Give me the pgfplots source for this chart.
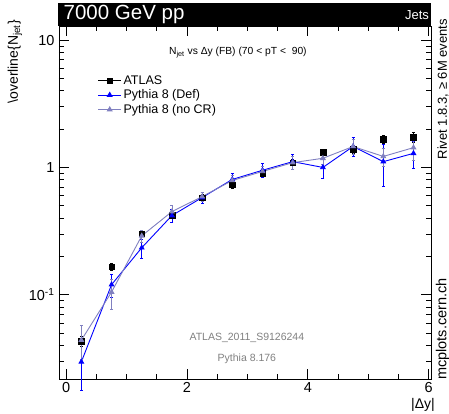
\documentclass[border=0pt]{standalone}
\usepackage{fontspec}
\setmainfont{Liberation Sans}
\usepackage{pgfplots}
\pgfplotsset{compat=1.18}
\definecolor{defblue}{RGB}{0,0,255}
\definecolor{nocr}{RGB}{128,128,192}
\definecolor{labelgray}{RGB}{128,128,128}

\begin{document}
\begin{tikzpicture}
\useasboundingbox (-59pt,-34pt) rectangle (390pt,379pt);
\begin{axis}[
  scale only axis, width=372pt, height=353pt,
  at={(0,0)}, anchor=south west,
  xmin=-0.12, xmax=6.04,
  ymode=log, ymin=0.0218, ymax=12.9,
  axis line style={line width=0.8pt},
  tick align=inside, tick pos=both,
  major tick length=10pt, minor tick length=5pt,
  every tick/.style={line width=0.8pt, black},
  xtick={0,2,4,6}, minor xtick={0.5,1,1.5,2.5,3,3.5,4.5,5,5.5},
  ytick={0.1,1,10}, yticklabels={10\textsuperscript{-1},1,10},
  minor ytick={0.03,0.04,0.05,0.06,0.07,0.08,0.09,0.2,0.3,0.4,0.5,0.6,0.7,0.8,0.9,2,3,4,5,6,7,8,9},
  /pgf/number format/assume math mode=true,
  tick label style={font=\fontsize{14.5}{14.5}\selectfont},
  yticklabel style={xshift=-1pt},
  clip=false,
  legend style={draw=none, fill=none, at={(0.104,0.866)}, anchor=north west,
    font=\fontsize{12.5}{13}\selectfont, row sep=0pt, inner sep=0pt},
  legend cell align=left,
  legend image code/.code={\draw[mark repeat=2,mark phase=2] plot coordinates {(0cm,0cm) (0.4cm,0cm) (0.8cm,0cm)};},
  error bars/y dir=both, error bars/y explicit,
  error bars/error bar style={line width=0.8pt},
  error bars/error mark options={mark size=1.5pt, rotate=90, line width=0.8pt},
]
% ATLAS data (markers with error bars only)
\addplot[black, only marks, mark=square*, mark size=2.8pt,
  legend image code/.code={\draw[black, line width=0.8pt] (0cm,0cm) -- (0.8cm,0cm);
    \fill[black] (0.4cm,0cm) +(-2.8pt,-2.8pt) rectangle +(2.8pt,2.8pt);}]
  coordinates {
  (0.25,0.0434) +- (0,0.004)
  (0.75,0.166) +- (0,0.010)
  (1.25,0.302) +- (0,0.015)
  (1.75,0.42) +- (0,0.02)
  (2.25,0.58) +- (0,0.03)
  (2.75,0.73) +- (0,0.04)
  (3.25,0.90) +- (0,0.05)
  (3.75,1.09) +- (0,0.06)
  (4.25,1.31) +- (0,0.07)
  (4.75,1.39) +- (0,0.10)
  (5.25,1.66) +- (0,0.12)
  (5.75,1.72) +- (0,0.15)
  };
\addlegendentry{ATLAS}
% Pythia 8, default tune
\addplot[defblue, line width=0.9pt, mark=triangle*, mark size=2.6pt]
  coordinates {
  (0.25,0.0297) +- (0,0.012)
  (0.75,0.120) +- (0,0.025)
  (1.25,0.234) +- (0,0.04)
  (1.75,0.419) +- (0,0.05)
  (2.25,0.58) +- (0,0.06)
  (2.75,0.805) +- (0,0.09)
  (3.25,0.95) +- (0,0.12)
  (3.75,1.11) +- (0,0.15)
  (4.25,1.00) +- (0,0.18)
  (4.75,1.46) +- (0,0.25)
  (5.25,1.11) +- (0,0.40)
  (5.75,1.29) +- (0,0.30)
  };
\addlegendentry{Pythia 8 (Def)}
% Pythia 8, no colour reconnection
\addplot[nocr, line width=0.9pt, mark=triangle*, mark size=2.6pt]
  coordinates {
  (0.25,0.044) +- (0,0.013)
  (0.75,0.105) +- (0,0.028)
  (1.25,0.29) +- (0,0.03)
  (1.75,0.45) +- (0,0.05)
  (2.25,0.59) +- (0,0.05)
  (2.75,0.79) +- (0,0.07)
  (3.25,0.93) +- (0,0.08)
  (3.75,1.09) +- (0,0.12)
  (4.25,1.18) +- (0,0.12)
  (4.75,1.46) +- (0,0.20)
  (5.25,1.22) +- (0,0.20)
  (5.75,1.43) +- (0,0.30)
  };
\addlegendentry{Pythia 8 (no CR)}

% header bar
\fill[black] (rel axis cs:-0.003,1) rectangle (rel axis cs:1.0,1.065);
\node[white, anchor=west, font=\fontsize{20.5}{20.5}\selectfont, inner sep=0pt]
  at (rel axis cs:0.012,1.032) {7000 GeV pp};
\node[white, anchor=east, font=\fontsize{13}{13}\selectfont, inner sep=0pt]
  at (rel axis cs:0.995,1.031) {Jets};
% in-plot annotations
\node[font=\fontsize{10.3}{10.3}\selectfont] at (rel axis cs:0.481,0.926)
  {N\textsubscript{jet} vs Δy (FB) (70 < pT <\ \ 90)};
\node[labelgray, font=\fontsize{10.5}{10.5}\selectfont] at (rel axis cs:0.505,0.116)
  {ATLAS\_2011\_S9126244};
\node[labelgray, font=\fontsize{10.5}{10.5}\selectfont] at (rel axis cs:0.505,0.057)
  {Pythia 8.176};
\end{axis}
% axis titles and side notes
\node[rotate=90, anchor=east, font=\fontsize{14}{14}\selectfont, inner sep=0pt]
  at (-44pt,359pt) {\textbackslash overline\{N\textsubscript{jet}\}};
\node[font=\fontsize{14}{14}\selectfont] at (364pt,-26pt) {|Δy|};
\node[rotate=90, anchor=east, font=\fontsize{13}{13}\selectfont, inner sep=0pt]
  at (384pt,360pt) {Rivet 1.8.3, ≥ 6M events};
\node[rotate=90, anchor=west, font=\fontsize{14.5}{14.5}\selectfont, inner sep=0pt]
  at (383.5pt,-1pt) {mcplots.cern.ch};
\end{tikzpicture}
\end{document}
